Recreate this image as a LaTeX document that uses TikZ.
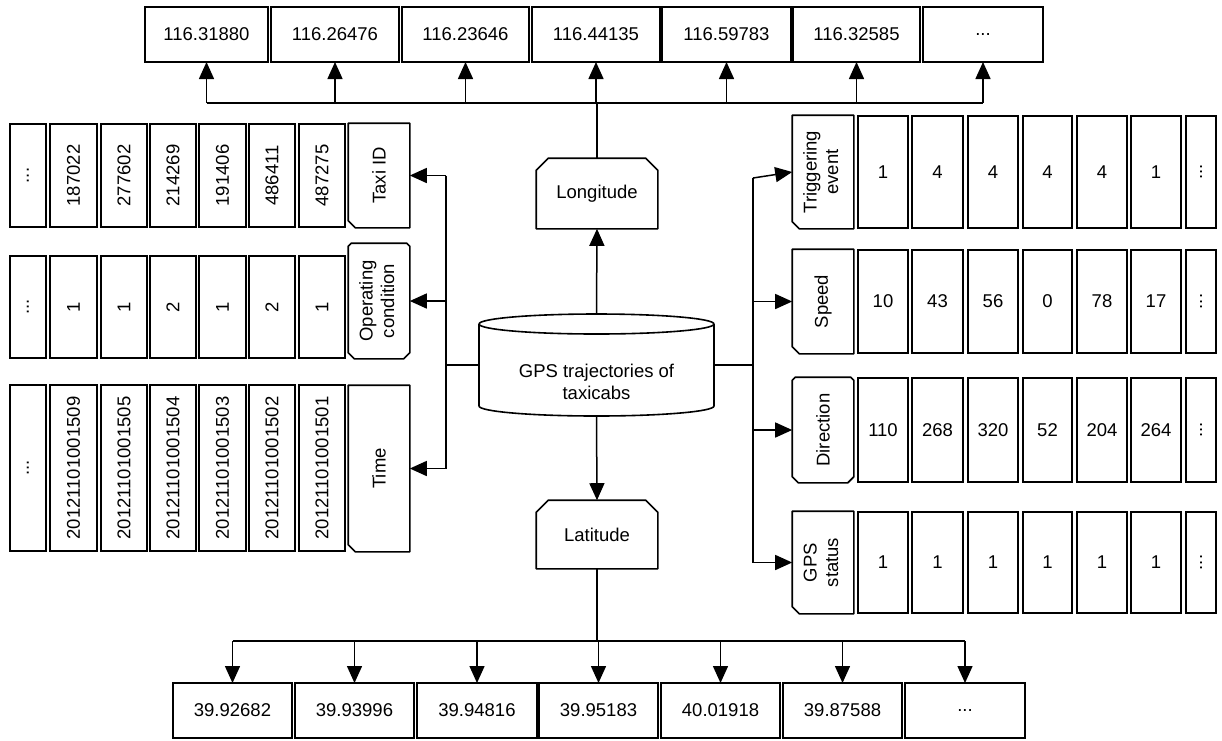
\documentclass[tikz,border=0pt]{standalone}
\usepackage{fontspec}
\setmainfont{Liberation Sans}
\usepackage{graphicx}
\usetikzlibrary{arrows.meta}

% three-dot filler used in the "more values" cells
\newcommand\trdots{...}
% node spanning a given box: style, name, x1, y1, x2, y2, text
\newcommand\place[7]{%
  \pgfmathsetmacro\boxw{#5-#3}\pgfmathsetmacro\boxh{#6-#4}%
  \pgfmathsetmacro\boxcx{(#3+#5)/2}\pgfmathsetmacro\boxcy{(#4+#6)/2}%
  \node[#1, minimum width=\boxw pt, minimum height=\boxh pt] (#2) at (\boxcx,\boxcy) {#7};}
% outline of a tag node with cut corners: name, nw, ne, se, sw cut sizes (pt)
\newcommand\chamf[5]{%
  \draw[outline] ([xshift=#2pt]#1.north west) -- ([xshift=-#3pt]#1.north east)
    -- ([yshift=-#3pt]#1.north east) -- ([yshift=#4pt]#1.south east)
    -- ([xshift=-#4pt]#1.south east) -- ([xshift=#5pt]#1.south west)
    -- ([yshift=#5pt]#1.south west) -- ([yshift=-#2pt]#1.north west) -- cycle;}

\begin{document}
\begin{tikzpicture}[x=1pt,y=-1pt,
  every node/.style={font=\fontsize{18.5}{21.5}\selectfont},
  cellbox/.style={draw, line width=1.6pt, inner sep=0pt, outer sep=0pt},
  tagbox/.style={inner sep=0pt, outer sep=0.8pt},
  outline/.style={line width=1.6pt, line join=round},
  conn/.style={line width=1.5pt},
  arr/.style={-{Triangle[length=17pt,width=15pt]}}]
\useasboundingbox (0,0) rectangle (1222,740);

% ---------- central data store ----------
\place{tagbox}{cyl}{479}{314}{714}{416}{}
\draw[outline] (596.5,324) ellipse [x radius=117.5pt, y radius=10pt];
\draw[outline] (479,324) -- (479,406)
  arc[start angle=180, end angle=360, x radius=117.5pt, y radius=10pt] -- (714,324);
\node[align=center] (cyltext) at (596.5,382) {GPS trajectories of\\taxicabs};

% ---------- longitude / latitude tags ----------
\place{tagbox}{lon}{537}{159}{657}{228}{Longitude}
\chamf{lon}{12}{12}{0}{0}
\place{tagbox}{lat}{537}{501}{657}{568}{Latitude}
\chamf{lat}{12}{12}{0}{0}

% ---------- longitude values ----------
\foreach \i/\xa/\xb/\t in {1/145/268/116.31880, 2/271/399/116.26476,
    3/402/529/116.23646, 4/532/660/116.44135, 5/662/791/116.59783,
    6/793/920/116.32585, 7/923/1043/\trdots}
  {\place{cellbox}{t\i}{\xa}{7}{\xb}{62}{\t}}

% ---------- latitude values ----------
\foreach \i/\xa/\xb/\t in {1/173/292/39.92682, 2/295/414/39.93996,
    3/417/537/39.94816, 4/539/658/39.95183, 5/661/780/40.01918,
    6/783/902/39.87588, 7/905/1025/\trdots}
  {\place{cellbox}{b\i}{\xa}{683}{\xb}{738}{\t}}

% ---------- left attribute rows ----------
\foreach \i/\xa/\xb/\t in {0/10/46/\trdots, 1/50/97/187022, 2/101/147/277602,
    3/150/196/214269, 4/199/246/191406, 5/249/295/486411, 6/299/345/487275}
  {\place{cellbox}{id\i}{\xa}{124}{\xb}{227}{\rotatebox{90}{\t}}}
\place{tagbox}{taxi}{349}{124}{409}{227}{\rotatebox{90}{Taxi ID}}
\chamf{taxi}{0}{0}{0}{7}

\foreach \i/\xa/\xb/\t in {0/10/46/\trdots, 1/50/97/1, 2/101/147/1,
    3/150/196/2, 4/199/246/1, 5/249/295/2, 6/299/345/1}
  {\place{cellbox}{op\i}{\xa}{256}{\xb}{358}{\rotatebox{90}{\t}}}
\place{tagbox}{opc}{349}{244}{409}{358}
  {\rotatebox{90}{\begin{tabular}{@{}c@{}}Operating\\condition\end{tabular}}}
\chamf{opc}{3}{3}{6}{6}

\foreach \i/\xa/\xb/\t in {0/10/46/\trdots, 1/50/97/20121101001509,
    2/101/147/20121101001505, 3/150/196/20121101001504,
    4/199/246/20121101001503, 5/249/295/20121101001502,
    6/299/345/20121101001501}
  {\place{cellbox}{tm\i}{\xa}{385}{\xb}{551}{\rotatebox{90}{\t}}}
\place{tagbox}{time}{349}{386}{409}{551}{\rotatebox{90}{Time}}
\chamf{time}{0}{0}{0}{7}

% ---------- right attribute rows ----------
\place{tagbox}{trig}{793}{116}{853}{228}
  {\rotatebox{90}{\begin{tabular}{@{}c@{}}Triggering\\event\end{tabular}}}
\chamf{trig}{0}{0}{0}{7}
\foreach \i/\xa/\xb/\t in {1/858/908/1, 2/912/963/4, 3/968/1018/4,
    4/1023/1072/4, 5/1077/1127/4, 6/1131/1181/1, 7/1186/1216/\rotatebox{90}{\trdots}}
  {\place{cellbox}{tr\i}{\xa}{116}{\xb}{228}{\t}}

\place{tagbox}{speed}{793}{250}{853}{353}{\rotatebox{90}{Speed}}
\chamf{speed}{0}{0}{0}{7}
\foreach \i/\xa/\xb/\t in {1/858/908/10, 2/912/963/43, 3/968/1018/56,
    4/1023/1072/0, 5/1077/1127/78, 6/1131/1181/17, 7/1186/1216/\rotatebox{90}{\trdots}}
  {\place{cellbox}{sp\i}{\xa}{250}{\xb}{353}{\t}}

\place{tagbox}{dir}{793}{378}{853}{482}{\rotatebox{90}{Direction}}
\chamf{dir}{3}{3}{6}{6}
\foreach \i/\xa/\xb/\t in {1/858/908/110, 2/912/963/268, 3/968/1018/320,
    4/1023/1072/52, 5/1077/1127/204, 6/1131/1181/264, 7/1186/1216/\rotatebox{90}{\trdots}}
  {\place{cellbox}{dr\i}{\xa}{378}{\xb}{482}{\t}}

\place{tagbox}{gps}{793}{512}{853}{613}
  {\rotatebox{90}{\begin{tabular}{@{}c@{}}GPS\\status\end{tabular}}}
\chamf{gps}{0}{0}{0}{7}
\foreach \i/\xa/\xb/\t in {1/858/908/1, 2/912/963/1, 3/968/1018/1,
    4/1023/1072/1, 5/1077/1127/1, 6/1131/1181/1, 7/1186/1216/\rotatebox{90}{\trdots}}
  {\place{cellbox}{gs\i}{\xa}{512}{\xb}{613}{\t}}

% ---------- connectors ----------
\coordinate (topbus) at (0,103);
\coordinate (botbus) at (0,641);
\coordinate (lbus) at (446,0);
\coordinate (rbus) at (753,0);
\coordinate (rtop) at (753,178);

% up to the longitude values
\draw[conn, arr] (cyl.north) -- (lon.south);
\draw[conn] (lon.north) -- (lon.north |- topbus);
\draw[conn] (t1.south |- topbus) -- (t7.south |- topbus);
\foreach \i in {1,...,7}
  \draw[conn, arr] (t\i.south |- topbus) -- (t\i.south);

% down to the latitude values
\draw[conn, arr] (cyl.south) -- (lat.north);
\draw[conn] (lat.south) -- (lat.south |- botbus);
\draw[conn] (b1.north |- botbus) -- (b7.north |- botbus);
\foreach \i in {1,...,7}
  \draw[conn, arr] (b\i.north |- botbus) -- (b\i.north);

% left branch
\draw[conn] (cyl.west) -- (cyl.west -| lbus);
\draw[conn] (taxi.east -| lbus) -- (time.east -| lbus);
\foreach \n in {taxi,opc,time}
  \draw[conn, arr] (\n.east -| lbus) -- (\n.east);

% right branch
\draw[conn] (cyl.east) -- (cyl.east -| rbus);
\draw[conn] (rtop) -- (gps.west -| rbus);
\draw[conn, arr] (rtop) -- (trig.west);
\foreach \n in {speed,dir,gps}
  \draw[conn, arr] (\n.west -| rbus) -- (\n.west);
\end{tikzpicture}
\end{document}
